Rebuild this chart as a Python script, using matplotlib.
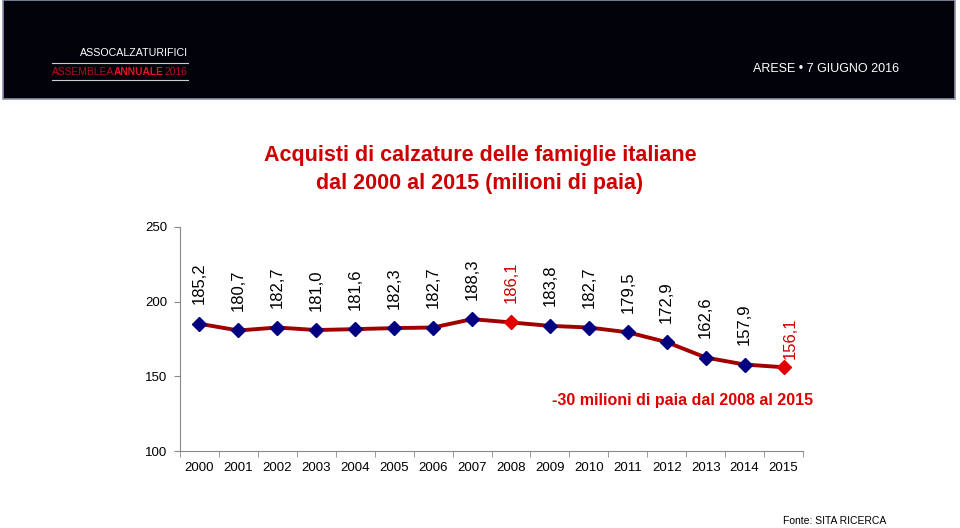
import matplotlib.pyplot as plt
from matplotlib.patches import Rectangle

plt.rcParams['font.family'] = ['Liberation Sans', 'DejaVu Sans']

years = ['2000', '2001', '2002', '2003', '2004', '2005', '2006', '2007',
         '2008', '2009', '2010', '2011', '2012', '2013', '2014', '2015']
paia = [185.2, 180.7, 182.7, 181.0, 181.6, 182.3, 182.7, 188.3,
        186.1, 183.8, 182.7, 179.5, 172.9, 162.6, 157.9, 156.1]
highlight = ['2008', '2015']

fig = plt.figure(figsize=(9.6, 5.28), dpi=100)

# header band
fig.patches.append(Rectangle((0.003, 1 - 99 / 528), 0.992, 99 / 528, transform=fig.transFigure,
                             facecolor='#02030a', edgecolor='#8a93a8', lw=1.2))
fig.text(80 / 960, 1 - 53 / 528, 'ASSOCALZATURIFICI', color='white', fontsize=7.7,
         va='center', ha='left')
fig.add_artist(plt.Line2D([52 / 960, 188 / 960], [1 - 63 / 528] * 2, color='#cccccc', lw=0.8,
                          transform=fig.transFigure))
fig.add_artist(plt.Line2D([52 / 960, 188 / 960], [1 - 80 / 528] * 2, color='#cccccc', lw=0.8,
                          transform=fig.transFigure))

# "ASSEMBLEA ANNUALE 2016" written as three pieces side by side
fig.canvas.draw()
rend = fig.canvas.get_renderer()
xpos = 52
for piece, col, wt in [('ASSEMBLEA', '#b01020', 'normal'), ('ANNUALE', '#e01525', 'bold'),
                       ('2016', '#b01020', 'normal')]:
    t = fig.text(xpos / 960, 1 - 72 / 528, piece, color=col, fontsize=7.4, va='center',
                 fontweight=wt)
    xpos += t.get_window_extent(rend).width

fig.text(899 / 960, 1 - 69 / 528, 'ARESE \u2022 7 GIUGNO 2016', color='white', fontsize=9,
         va='center', ha='right')

# title
fig.text(480 / 960, 1 - 155 / 528, 'Acquisti di calzature delle famiglie italiane',
         color='#cc0000', fontsize=15.5, fontweight='bold', ha='center', va='center')
fig.text(480 / 960, 1 - 183 / 528, 'dal 2000 al 2015 (milioni di paia)',
         color='#cc0000', fontsize=15.5, fontweight='bold', ha='center', va='center')

ax = fig.add_axes([180 / 960, 1 - 451 / 528, 623 / 960, 224 / 528])
x = list(range(len(years)))
ax.plot(x, paia, color='#a00000', lw=2.8, zorder=2)
for i, (yr, v) in enumerate(zip(years, paia)):
    col = '#e00000' if yr in highlight else '#000080'
    ax.plot(i, v, marker='D', ms=6.8, color=col, zorder=3)
    txt_col = '#cc0000' if yr in highlight else 'black'
    off = (5, 6) if i == len(years) - 1 else (0, 14)
    ax.annotate(f'{v:.1f}'.replace('.', ','), (i, v), xytext=off, textcoords='offset points',
                rotation=90, ha='center', va='bottom', fontsize=12, color=txt_col)

ax.set_xlim(-0.5, len(years) - 0.5)
ax.set_ylim(100, 250)
ax.set_yticks([100, 150, 200, 250])
ax.set_xticks(x)
ax.set_xticklabels(years, fontsize=9.5)
ax.set_xticks([i - 0.5 for i in range(len(years) + 1)], minor=True)
ax.tick_params(axis='x', which='major', length=0, pad=8)
ax.tick_params(axis='x', which='minor', length=4, color='#888888')
ax.tick_params(axis='y', length=4, color='#888888', labelsize=9.5, pad=5)
for s in ['top', 'right']:
    ax.spines[s].set_visible(False)
for s in ['left', 'bottom']:
    ax.spines[s].set_color('#888888')

fig.text(683 / 960, 1 - 400 / 528, '-30 milioni di paia dal 2008 al 2015', color='#dd0000',
         fontsize=11.5, fontweight='bold', ha='center', va='center')
fig.text(886 / 960, 1 - 521 / 528, 'Fonte: SITA RICERCA', fontsize=7.5, ha='right', va='center')

fig.savefig('out.png', dpi=100)
